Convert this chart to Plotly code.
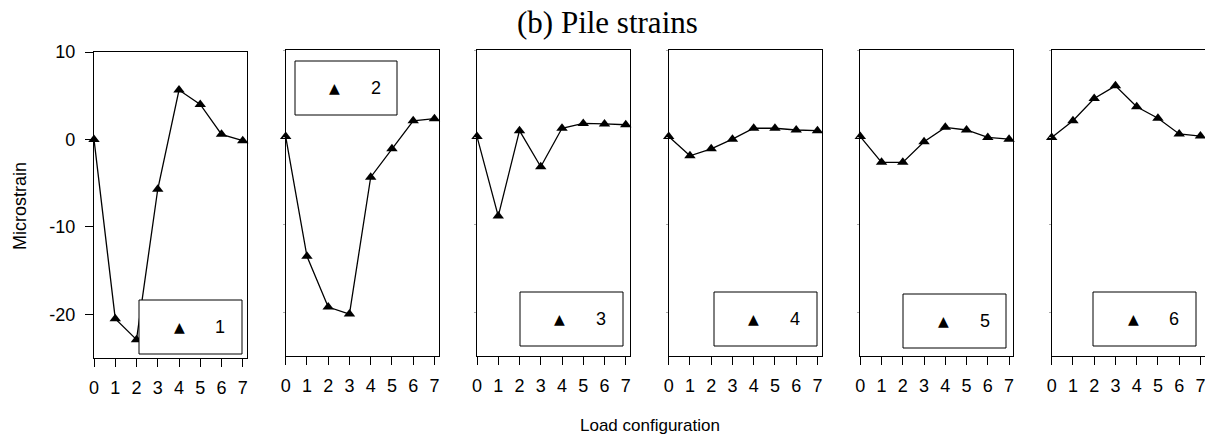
import plotly.graph_objects as go

# The page body has an 8px margin; the figure is sized and offset to match
OFF = 8
W, H = 1213 - OFF, 437 - OFF

# ---- data ----
load_config = [0, 1, 2, 3, 4, 5, 6, 7]
pile_names = ["1", "2", "3", "4", "5", "6"]
strain_1 = [0.0, -20.5, -22.9, -5.7, 5.65, 4.0, 0.58, -0.15]
strain_2 = [0.1, -13.6, -19.4, -20.2, -4.55, -1.3, 1.9, 2.15]
strain_3 = [0.1, -9.0, 0.77, -3.35, 1.05, 1.6, 1.55, 1.45]
strain_4 = [0.1, -2.1, -1.3, -0.2, 1.05, 1.05, 0.85, 0.77]
strain_5 = [0.1, -2.85, -2.85, -0.5, 1.15, 0.85, 0.0, -0.2]
strain_6 = [0.0, 1.9, 4.45, 5.9, 3.5, 2.2, 0.4, 0.15]
series = [strain_1, strain_2, strain_3, strain_4, strain_5, strain_6]
y_ticks = [-20, -10, 0, 10]
y_tick_text = ["-20", "-10", "0", "10"]
x_ticks = load_config

# ---- layout geometry (page pixels) ----
panel_left = [94, 285.7, 477, 668.7, 860.3, 1051.7]
panel_width = 153
panel_top = [52, 50, 50, 50, 50, 50]
panel_bottom = [358, 356, 356, 356, 356, 356]
legend_boxes = [
    (139, 242, 300, 354, 179, 220),
    (295, 397, 61, 115, 334, 376),
    (520, 623, 292, 346, 559, 601),
    (714, 817, 292, 346, 753, 795),
    (903, 1006, 294, 348, 943, 985),
    (1093, 1196, 292, 346, 1133, 1174),
]

def px(x):
    return (x - OFF) / W

def py(y):
    return 1 - (y - OFF) / H

FONT = "Liberation Sans, Arial, sans-serif"

fig = go.Figure()
shapes = []
annotations = []

for i, vals in enumerate(series):
    n = "" if i == 0 else str(i + 1)
    fig.add_trace(go.Scatter(
        x=load_config, y=vals, mode="lines+markers",
        line=dict(color="black", width=1.3),
        marker=dict(symbol="triangle-up", size=10, color="black"),
        cliponaxis=False, showlegend=False,
        xaxis="x" + n, yaxis="y" + n,
    ))
    fig.layout["xaxis" + n] = dict(
        domain=[px(panel_left[i]), px(panel_left[i] + panel_width)],
        anchor="y" + n, range=[0, 7.2], tickvals=x_ticks,
        ticks="outside", ticklen=8, tickwidth=1.2, tickcolor="black",
        showline=True, linecolor="black", linewidth=1.3, mirror=True,
        showgrid=False, zeroline=False, automargin=False,
        ticklabelstandoff=5,
        tickfont=dict(family=FONT, size=18, color="black"),
    )
    ydict = dict(
        domain=[py(panel_bottom[i]), py(panel_top[i])],
        anchor="x" + n, range=[-25, 10], tickvals=y_ticks, ticktext=y_tick_text,
        showline=True, linecolor="black", linewidth=1.3, mirror=True,
        showgrid=False, zeroline=False, automargin=False,
        tickfont=dict(family=FONT, size=18, color="black"),
    )
    if i == 0:
        ydict.update(ticks="outside", ticklen=8, tickwidth=1.2, tickcolor="black",
                     showticklabels=True, ticklabelstandoff=6)
    else:
        ydict.update(ticks="outside", ticklen=2, tickwidth=1, tickcolor="#aaaaaa",
                     showticklabels=False)
    fig.layout["yaxis" + n] = ydict

    x0, x1, y0, y1, mx, tx = legend_boxes[i]
    shapes.append(dict(type="rect", xref="paper", yref="paper",
                       x0=px(x0), x1=px(x1), y0=py(y1), y1=py(y0),
                       line=dict(color="black", width=1), fillcolor="white", layer="above"))
    yc = (y0 + y1) / 2
    annotations.append(dict(x=px(mx), y=py(yc), xref="paper", yref="paper",
                            text="▲", showarrow=False, xanchor="center", yanchor="middle",
                            font=dict(family="DejaVu Sans", size=14, color="black")))
    annotations.append(dict(x=px(tx), y=py(yc), xref="paper", yref="paper",
                            text=pile_names[i], showarrow=False, xanchor="center", yanchor="middle",
                            font=dict(family=FONT, size=18, color="black")))

annotations.append(dict(x=px(607), y=py(22), xref="paper", yref="paper",
                        text="(b) Pile strains", showarrow=False,
                        xanchor="center", yanchor="middle",
                        font=dict(family="Liberation Serif, Times New Roman, serif", size=31, color="black")))
annotations.append(dict(x=px(650), y=py(425), xref="paper", yref="paper",
                        text="Load configuration", showarrow=False,
                        xanchor="center", yanchor="middle",
                        font=dict(family=FONT, size=17, color="black")))
annotations.append(dict(x=px(20), y=py(206), xref="paper", yref="paper",
                        text="Microstrain", showarrow=False, textangle=-90,
                        xanchor="center", yanchor="middle",
                        font=dict(family=FONT, size=18, color="black")))

fig.update_layout(
    width=W, height=H, margin=dict(l=0, r=0, t=0, b=0, autoexpand=False),
    paper_bgcolor="white", plot_bgcolor="white",
    shapes=shapes, annotations=annotations, showlegend=False,
)

fig.write_html("out.html")
